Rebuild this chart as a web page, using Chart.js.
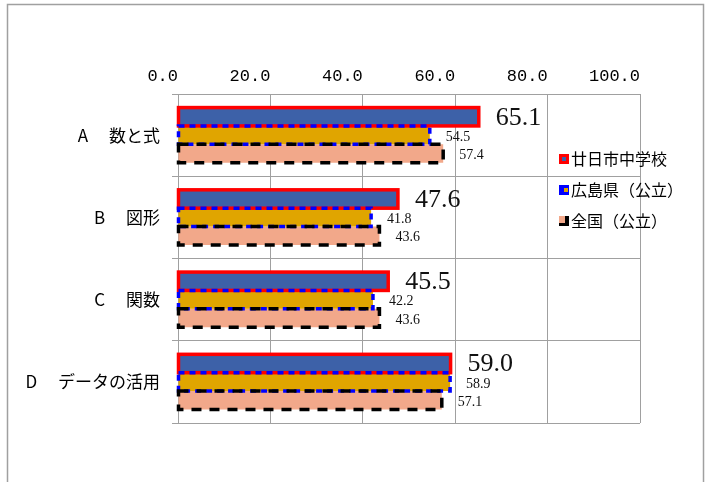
<!DOCTYPE html>
<html>
<head>
<meta charset="utf-8">
<script src="https://cdn.jsdelivr.net/npm/chart.js@4.4.0/dist/chart.umd.min.js"></script>
<style>
	html, body { margin: 0; padding: 0; background: #fff; }
</style>
</head>
<body>
<canvas id="myChart" width="707" height="482"></canvas>
<script>
	// data
	var categories = ["A　 数と式", "B　 図形", "C　 関数", "D　 データの活用"];
	var seriesNames = ["廿日市中学校", "広島県（公立）", "全国（公立）"];
	var schoolValues = [65.1, 47.6, 45.5, 59.0];
	var prefValues = [54.5, 41.8, 42.2, 58.9];
	var nationValues = [57.4, 43.6, 43.6, 57.1];
	var axisMin = 0, axisMax = 100, axisStep = 20;

	var gridColor = "#a0a0a0";

	// outlines, value labels, legend and outer frame
	var decoPlugin = {
		id: 'deco',
		beforeDraw: function(chart){
			var ctx = chart.ctx;
			ctx.save();
			ctx.strokeStyle = gridColor;
			ctx.lineWidth = 1.5;
			ctx.strokeRect(7.5, 4.5, 696, 520);
			ctx.restore();
		},
		afterDatasetsDraw: function(chart){
			var ctx = chart.ctx;
			chart.data.datasets.forEach(function(ds, i){
				var meta = chart.getDatasetMeta(i);
				ctx.save();
				ctx.strokeStyle = ds.outlineColor;
				ctx.lineWidth = 3.5;
				ctx.setLineDash(ds.outlineDash);
				meta.data.forEach(function(bar){
					var p = bar.getProps(['x', 'y', 'base', 'height'], true);
					ctx.strokeRect(p.base, p.y - p.height / 2, p.x - p.base, p.height);
				});
				ctx.restore();
			});
			chart.data.datasets.forEach(function(ds, i){
				var meta = chart.getDatasetMeta(i);
				ctx.save();
				ctx.fillStyle = "#111";
				ctx.textAlign = "left";
				ctx.textBaseline = "middle";
				ctx.font = i == 0 ? '26px "Liberation Serif"' : '14px "Liberation Serif"';
				meta.data.forEach(function(bar, j){
					var p = bar.getProps(['x', 'y'], true);
					var off = i == 0 ? 17 : 16;
					var dy = i == 0 ? 1 : 2;
					ctx.fillText(ds.data[j].toFixed(1), p.x + off, p.y + dy);
				});
				ctx.restore();
			});
		},
		afterDraw: function(chart){
			var ctx = chart.ctx;
			var area = chart.chartArea;
			var lx = area.right - 81;
			ctx.save();
			ctx.font = '16px "Noto Sans CJK JP"';
			ctx.textBaseline = "middle";
			ctx.textAlign = "left";
			chart.data.datasets.forEach(function(ds, i){
				var y = area.top + 65 + i * 31;
				// marker
				if(i == 0){
					ctx.fillStyle = ds.outlineColor;
					ctx.fillRect(lx, y - 5, 10, 10);
					ctx.fillStyle = ds.backgroundColor;
					ctx.fillRect(lx + 3, y - 2, 4, 4);
				}else if(i == 1){
					ctx.fillStyle = ds.outlineColor;
					ctx.fillRect(lx, y - 5, 10, 10);
					ctx.fillStyle = ds.backgroundColor;
					ctx.fillRect(lx + 5, y - 2, 4, 4);
				}else{
					ctx.fillStyle = ds.backgroundColor;
					ctx.fillRect(lx, y - 5, 10, 10);
					ctx.fillStyle = ds.outlineColor;
					ctx.fillRect(lx + 6, y - 5, 4, 10);
					ctx.fillRect(lx, y + 2, 10, 3);
				}
				ctx.fillStyle = "#000";
				ctx.fillText(ds.label, lx + 12, y);
			});
			ctx.restore();
		}
	};

	Chart.defaults.color = "#000";

	var ctx = document.getElementById("myChart").getContext('2d');
	var myChart = new Chart(ctx, {
		type: 'bar',
		data: {
			labels: categories,
			datasets: [{
				label: seriesNames[0],
				data: schoolValues,
				backgroundColor: "#3d61a8",
				outlineColor: "#ff0000",
				outlineDash: []
			}, {
				label: seriesNames[1],
				data: prefValues,
				backgroundColor: "#e0a500",
				outlineColor: "#0000ff",
				outlineDash: [6, 5]
			}, {
				label: seriesNames[2],
				data: nationValues,
				backgroundColor: "#f2a88a",
				outlineColor: "#000000",
				outlineDash: [10, 8]
			}]
		},
		options: {
			indexAxis: 'y',
			responsive: false,
			animation: false,
			events: [],
			layout: { padding: { left: 0, top: 0, right: 67, bottom: 59 } },
			datasets: {
				bar: { categoryPercentage: 0.67, barPercentage: 1.0, borderWidth: 0 }
			},
			plugins: {
				legend: { display: false },
				tooltip: { enabled: false }
			},
			scales: {
				x: {
					position: 'top',
					min: axisMin,
					max: axisMax,
					ticks: {
						stepSize: axisStep,
						align: 'end',
						padding: 7,
						font: { family: '"Liberation Mono"', size: 17 },
						callback: function(v){ return v.toFixed(1); }
					},
					grid: { color: gridColor, drawTicks: false },
					border: { color: gridColor },
					afterFit: function(scale){ scale.height = 94; }
				},
				y: {
					ticks: {
						padding: 12,
						font: { family: '"Noto Sans CJK JP"', size: 17 }
					},
					grid: { color: gridColor, offset: true, tickLength: 6 },
					border: { color: gridColor },
					afterFit: function(scale){ scale.width = 178; }
				}
			}
		},
		plugins: [decoPlugin]
	});
</script>
</body>
</html>
